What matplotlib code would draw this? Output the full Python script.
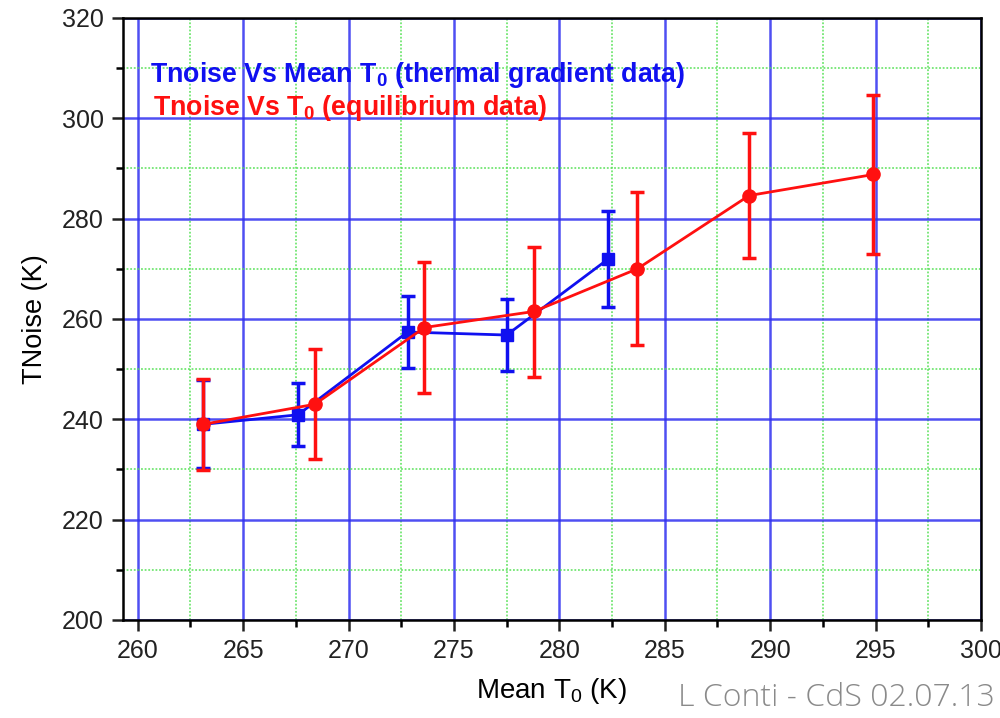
import matplotlib
matplotlib.use('Agg')
import matplotlib.pyplot as plt
from matplotlib.ticker import MultipleLocator

plt.rcParams['font.family'] = ['Liberation Sans', 'DejaVu Sans']
plt.rcParams['mathtext.fontset'] = 'custom'
plt.rcParams['mathtext.rm'] = 'Liberation Sans'
plt.rcParams['mathtext.bf'] = 'Liberation Sans:bold'

# gradiente termico (quadrati blu)
t0_grad = [263.1, 267.6, 272.8, 277.5, 282.3]
tn_grad = [239.0, 240.9, 257.4, 256.8, 271.9]
err_grad = [8.8, 6.3, 7.2, 7.2, 9.6]

# equilibrio (cerchi rossi)
t0_eq = [263.1, 268.4, 273.6, 278.8, 283.7, 289.0, 294.9]
tn_eq = [239.0, 243.0, 258.3, 261.5, 270.0, 284.6, 288.8]
err_lo = [9.2, 11.0, 13.1, 13.0, 15.2, 12.5, 15.8]
err_hi = [9.0, 11.0, 13.1, 12.9, 15.4, 12.5, 15.9]

fig = plt.figure(figsize=(10, 7.18), dpi=100)
ax = fig.add_axes([0.123, 0.1365, 0.858, 0.8385])

ax.errorbar(t0_grad, tn_grad, yerr=err_grad, color='#1010f0', marker='s', ms=8,
            lw=2, elinewidth=2.5, capsize=5, capthick=2.5, zorder=3)
ax.errorbar(t0_eq, tn_eq, yerr=[err_lo, err_hi], color='#ff1010', marker='o', ms=9.5,
            lw=2, elinewidth=2.5, capsize=5, capthick=2.5, zorder=4)

ax.set_xlim(259.3, 300)
ax.set_ylim(200, 320)
ax.xaxis.set_major_locator(MultipleLocator(5))
ax.xaxis.set_minor_locator(MultipleLocator(2.5))
ax.yaxis.set_major_locator(MultipleLocator(20))
ax.yaxis.set_minor_locator(MultipleLocator(10))

ax.grid(which='major', color='#3030f0', lw=1.8, alpha=0.85, zorder=1)
ax.grid(which='minor', color='#50e050', lw=1.3, ls=(0, (1, 1)), alpha=0.8, zorder=1)
ax.set_axisbelow(True)

for s in ax.spines.values():
    s.set_linewidth(1.8)
ax.tick_params(which='major', direction='out', length=8, width=1.8, labelsize=18,
               colors='#222222', pad=6)
ax.tick_params(which='minor', direction='out', length=5, width=1.8)

ax.set_xlabel(r'Mean T$_0$ (K)', fontsize=20, labelpad=9)
ax.set_ylabel('TNoise (K)', fontsize=19.5, labelpad=10)

ax.text(0.031, 0.905, r'Tnoise Vs Mean T$_\mathbf{0}$ (thermal gradient data)', transform=ax.transAxes,
        color='#1010f0', fontsize=19.3, fontweight='bold', va='center')
ax.text(0.035, 0.85, r'Tnoise Vs T$_\mathbf{0}$ (equilibrium data)', transform=ax.transAxes,
        color='#ff1010', fontsize=19.3, fontweight='bold', va='center')

fig.text(0.995, 0.005, 'L Conti - CdS 02.07.13', ha='right', va='bottom', fontsize=23,
         color='#8a8a8a', family=['Open Sans', 'Liberation Sans'], fontweight='light')

fig.savefig('out.png', dpi=100)
